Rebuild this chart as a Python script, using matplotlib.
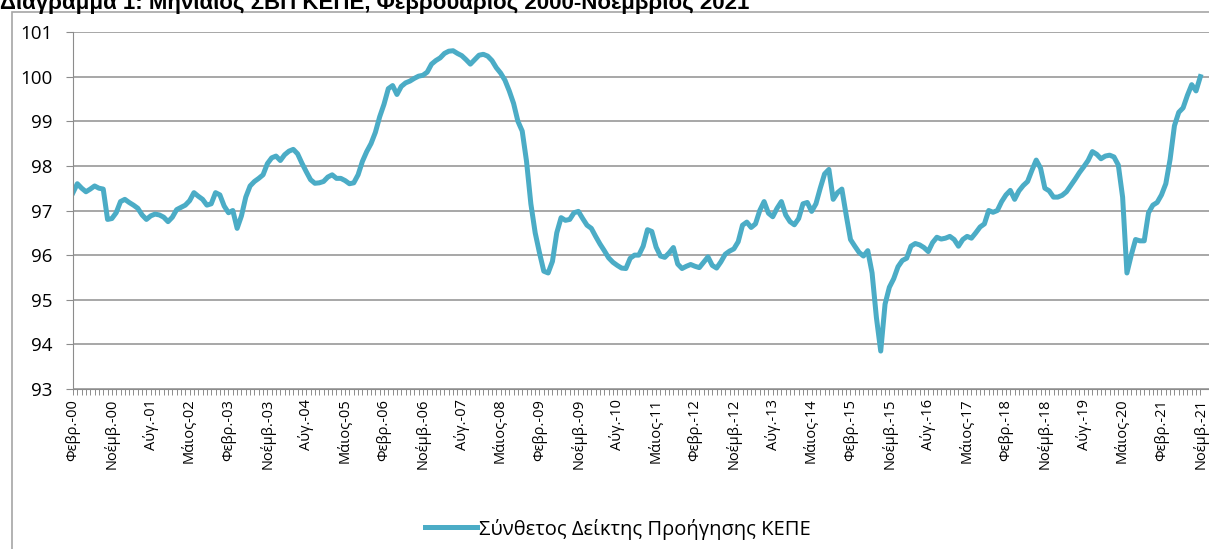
import matplotlib
matplotlib.use("Agg")
import matplotlib.pyplot as plt
from matplotlib.patches import Rectangle

# Composite leading indicator, monthly, Feb 2000 - Nov 2021
values = [
    97.40, 97.60, 97.50, 97.42, 97.48, 97.55, 97.50, 97.48, 96.80, 96.82, 96.95,
    97.20, 97.25, 97.18, 97.12, 97.05, 96.90, 96.80, 96.88, 96.92, 96.90, 96.85, 96.75,
    96.85, 97.02, 97.07, 97.12, 97.22, 97.40, 97.32, 97.25, 97.12, 97.15, 97.40, 97.35,
    97.10, 96.95, 97.00, 96.60, 96.88, 97.30, 97.55, 97.65, 97.72, 97.80, 98.05, 98.18,
    98.22, 98.12, 98.25, 98.33, 98.37, 98.27, 98.06, 97.87, 97.69, 97.61, 97.62, 97.65,
    97.75, 97.80, 97.72, 97.72, 97.67, 97.60, 97.62, 97.80, 98.10, 98.32, 98.50, 98.75,
    99.10, 99.38, 99.73, 99.80, 99.60, 99.78, 99.86, 99.90, 99.96, 100.01, 100.03, 100.10,
    100.28, 100.36, 100.42, 100.52, 100.57, 100.58, 100.52, 100.47, 100.38, 100.28, 100.38, 100.48,
    100.50, 100.46, 100.36, 100.20, 100.08, 99.92, 99.68, 99.40, 99.00, 98.78, 98.10, 97.15,
    96.50, 96.05, 95.64, 95.60, 95.86, 96.50, 96.84, 96.78, 96.80, 96.95, 96.98, 96.82,
    96.67, 96.60, 96.42, 96.25, 96.10, 95.94, 95.84, 95.77, 95.71, 95.70, 95.93, 96.00,
    96.00, 96.20, 96.57, 96.53, 96.18, 95.98, 95.95, 96.05, 96.17, 95.80, 95.70, 95.75,
    95.79, 95.75, 95.72, 95.84, 95.96, 95.77, 95.71, 95.85, 96.02, 96.09, 96.14, 96.30,
    96.67, 96.74, 96.62, 96.70, 97.00, 97.20, 96.94, 96.86, 97.05, 97.20, 96.90, 96.75,
    96.68, 96.82, 97.15, 97.18, 96.98, 97.15, 97.50, 97.82, 97.92, 97.25, 97.40, 97.48,
    96.90, 96.35, 96.20, 96.06, 95.98, 96.10, 95.60, 94.60, 93.85, 94.90, 95.28, 95.47,
    95.74, 95.88, 95.93, 96.20, 96.26, 96.23, 96.17, 96.08, 96.28, 96.40, 96.36, 96.38,
    96.42, 96.35, 96.20, 96.35, 96.42, 96.38, 96.50, 96.63, 96.70, 97.00, 96.96, 97.00,
    97.20, 97.35, 97.45, 97.25, 97.44, 97.56, 97.65, 97.90, 98.13, 97.95, 97.50, 97.44,
    97.30, 97.30, 97.34, 97.42, 97.56, 97.70, 97.85, 97.98, 98.12, 98.32, 98.26, 98.16,
    98.22, 98.24, 98.20, 98.02, 97.30, 95.60, 96.00, 96.35, 96.32, 96.32, 96.95, 97.12,
    97.18, 97.35, 97.60, 98.15, 98.90, 99.20, 99.30, 99.58, 99.82, 99.68, 100.00,
]
tick_labels = [
    "Φεβρ.-00", "Νοέμβ.-00", "Αύγ.-01", "Μάιος-02", "Φεβρ.-03", "Νοέμβ.-03",
    "Αύγ.-04", "Μάιος-05", "Φεβρ.-06", "Νοέμβ.-06", "Αύγ.-07", "Μάιος-08",
    "Φεβρ.-09", "Νοέμβ.-09", "Αύγ.-10", "Μάιος-11", "Φεβρ.-12", "Νοέμβ.-12",
    "Αύγ.-13", "Μάιος-14", "Φεβρ.-15", "Νοέμβ.-15", "Αύγ.-16", "Μάιος-17",
    "Φεβρ.-18", "Νοέμβ.-18", "Αύγ.-19", "Μάιος-20", "Φεβρ.-21", "Νοέμβ.-21",
]
y_ticks = [93, 94, 95, 96, 97, 98, 99, 100, 101]
series_name = "Σύνθετος Δείκτης Προήγησης ΚΕΠΕ"
title = "Διάγραμμα 1: Μηνιαίος ΣΒΠ ΚΕΠΕ, Φεβρουάριος 2000-Νοέμβριος 2021"

plt.rcParams["font.family"] = ["Open Sans", "DejaVu Sans"]

W, H = 1209, 549
fig = plt.figure(figsize=(W / 100, H / 100), dpi=100)

# chart border (bottom edge falls outside the picture, as in the original crop)
fig.patches.append(Rectangle((12 / W, -0.05), 1.2, 1.05 - 12 / H, transform=fig.transFigure,
                             fill=False, edgecolor="#a6a6a6", linewidth=1.2))
fig.text(0.0, 1 - 9 / H, title, fontsize=16, fontweight="bold",
         family=["Liberation Sans", "DejaVu Sans"], va="baseline", ha="left")

ax = fig.add_axes([73 / W, 1 - 389 / H, 1 - 73 / W, (389 - 32) / H])
months = list(range(len(values)))
ax.plot(months, values, color="#4bacc6", linewidth=3.6, solid_joinstyle="round",
        label=series_name)

ax.set_ylim(93, 101)
ax.set_xlim(0, 263)
ax.set_yticks(y_ticks)
ax.set_yticklabels([str(v) for v in y_ticks], fontsize=13.5)
ax.set_xticks(list(range(0, len(values), 9)))
ax.set_xticklabels(tick_labels, rotation=90, fontsize=10.5)
ax.set_xticks(months, minor=True)
ax.grid(axis="y", color="#a0a0a0", linewidth=1.3)
ax.set_axisbelow(True)
for s in ["top", "right"]:
    ax.spines[s].set_visible(False)
ax.spines["left"].set_color("#8c8c8c")
ax.spines["bottom"].set_color("#8c8c8c")
ax.tick_params(axis="y", length=5, color="#8c8c8c", pad=10)
ax.tick_params(axis="x", which="both", length=4, color="#8c8c8c", width=0.7, pad=3)

fig.legend(loc="center", bbox_to_anchor=(618 / W, 1 - 529 / H), frameon=False,
           fontsize=14.5, handlelength=2.6, handletextpad=0.1)

fig.savefig("out.png", dpi=100)
